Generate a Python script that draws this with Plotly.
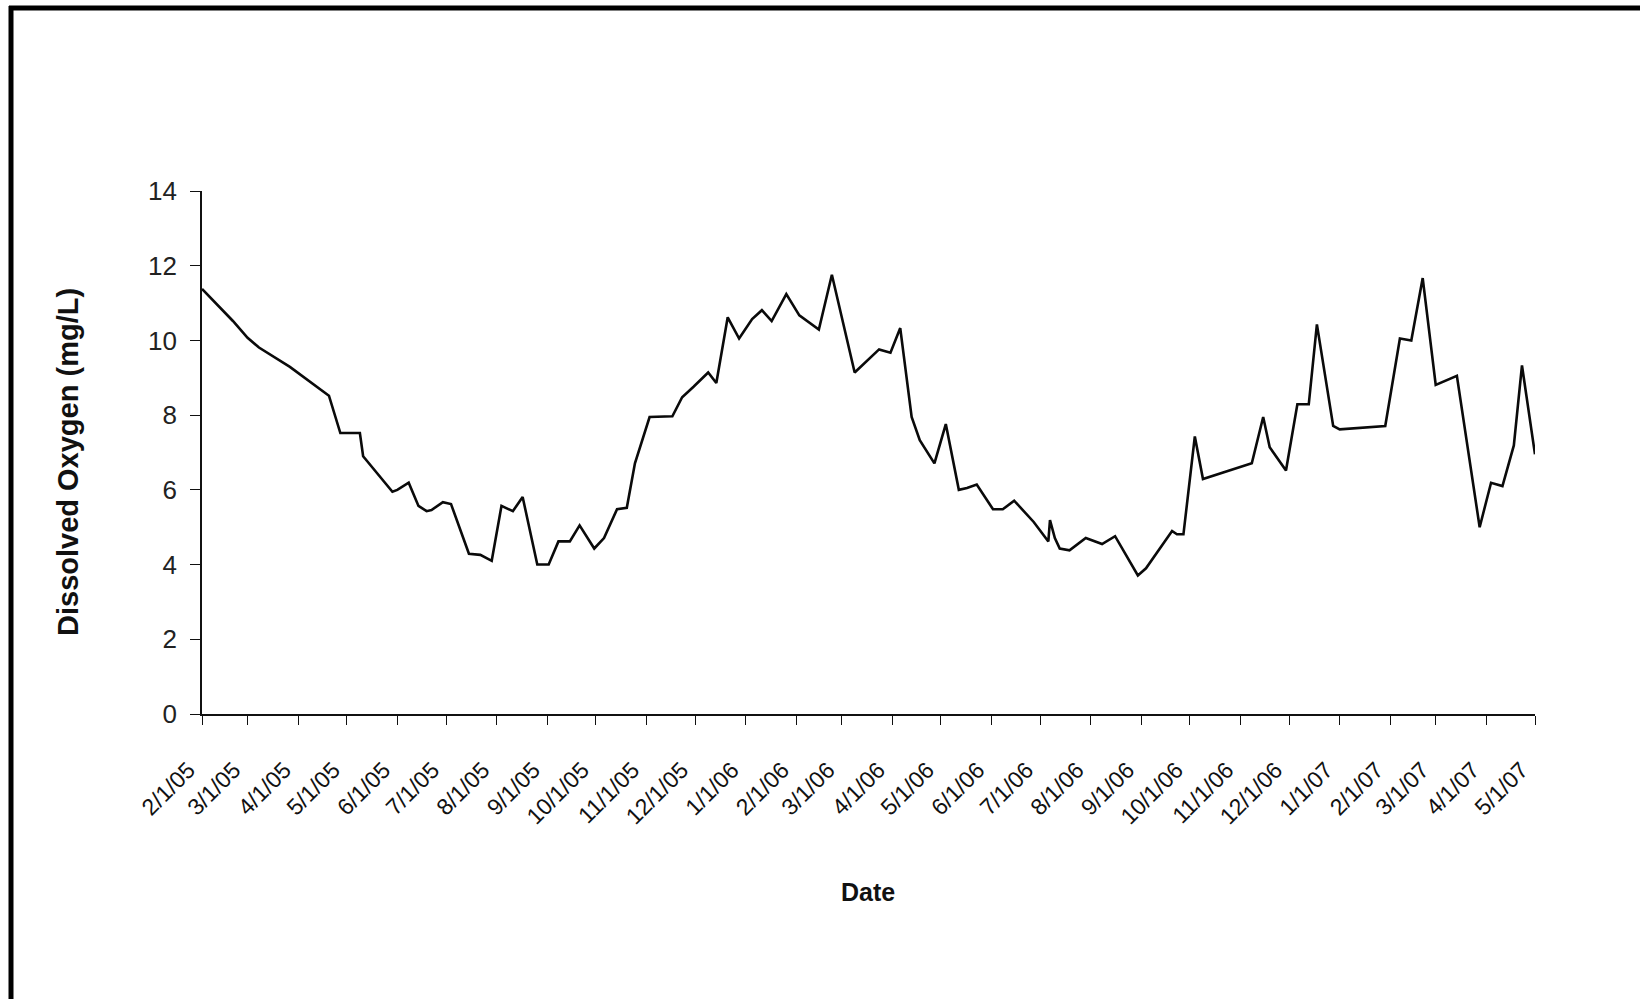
import plotly.graph_objects as go

# ---- data ----
dates = [
    "2005-02-01", "2005-02-20", "2005-03-01", "2005-03-08", "2005-03-27", "2005-04-08",
    "2005-04-20", "2005-04-27", "2005-05-09", "2005-05-11", "2005-05-29", "2005-06-01",
    "2005-06-08", "2005-06-14", "2005-06-19", "2005-06-22", "2005-06-29", "2005-07-04",
    "2005-07-15", "2005-07-22", "2005-07-29", "2005-08-04", "2005-08-11", "2005-08-17",
    "2005-08-26", "2005-09-02", "2005-09-08", "2005-09-15", "2005-09-21", "2005-09-30",
    "2005-10-06", "2005-10-14", "2005-10-20", "2005-10-25", "2005-11-03", "2005-11-17",
    "2005-11-23", "2005-11-30", "2005-12-09", "2005-12-14", "2005-12-21", "2005-12-28",
    "2006-01-05", "2006-01-11", "2006-01-17", "2006-01-26", "2006-02-03", "2006-02-15",
    "2006-02-23", "2006-03-09", "2006-03-16", "2006-03-24", "2006-03-31", "2006-04-06",
    "2006-04-13", "2006-04-18", "2006-04-27", "2006-05-04", "2006-05-12", "2006-05-17",
    "2006-05-23", "2006-06-02", "2006-06-08", "2006-06-15", "2006-06-27", "2006-07-06",
    "2006-07-07", "2006-07-10", "2006-07-13", "2006-07-19", "2006-07-29", "2006-08-08",
    "2006-08-16", "2006-08-30", "2006-09-04", "2006-09-20", "2006-09-23", "2006-09-27",
    "2006-10-04", "2006-10-09", "2006-11-08", "2006-11-15", "2006-11-19", "2006-11-29",
    "2006-12-06", "2006-12-13", "2006-12-18", "2006-12-28", "2007-01-01", "2007-01-29",
    "2007-02-07", "2007-02-14", "2007-02-21", "2007-03-01", "2007-03-14", "2007-03-28",
    "2007-04-04", "2007-04-11", "2007-04-18", "2007-04-23", "2007-05-01",
]
dissolved_oxygen = [
    11.38, 10.52, 10.07, 9.81, 9.29, 8.90,
    8.52, 7.52, 7.52, 6.90, 5.95, 6.00,
    6.19, 5.57, 5.43, 5.46, 5.67, 5.62,
    4.29, 4.26, 4.10, 5.57, 5.43, 5.81,
    4.00, 4.00, 4.62, 4.62, 5.05, 4.43,
    4.71, 5.48, 5.52, 6.71, 7.95, 7.97,
    8.48, 8.76, 9.14, 8.86, 10.62, 10.05,
    10.57, 10.81, 10.52, 11.24, 10.67, 10.29,
    11.76, 9.14, 9.43, 9.76, 9.67, 10.33,
    7.95, 7.33, 6.71, 7.76, 6.00, 6.05,
    6.14, 5.48, 5.48, 5.71, 5.14, 4.62,
    5.19, 4.71, 4.43, 4.38, 4.71, 4.55,
    4.76, 3.71, 3.90, 4.90, 4.81, 4.81,
    7.43, 6.29, 6.71, 7.95, 7.14, 6.52,
    8.29, 8.29, 10.43, 7.71, 7.62, 7.71,
    10.05, 10.00, 11.67, 8.81, 9.05, 5.00,
    6.19, 6.10, 7.19, 9.33, 6.95,
]

x_tick_vals = [
    "2005-02-01", "2005-03-01", "2005-04-01", "2005-05-01", "2005-06-01", "2005-07-01",
    "2005-08-01", "2005-09-01", "2005-10-01", "2005-11-01", "2005-12-01", "2006-01-01",
    "2006-02-01", "2006-03-01", "2006-04-01", "2006-05-01", "2006-06-01", "2006-07-01",
    "2006-08-01", "2006-09-01", "2006-10-01", "2006-11-01", "2006-12-01", "2007-01-01",
    "2007-02-01", "2007-03-01", "2007-04-01", "2007-05-01",
]
x_tick_text = [
    "2/1/05", "3/1/05", "4/1/05", "5/1/05", "6/1/05", "7/1/05",
    "8/1/05", "9/1/05", "10/1/05", "11/1/05", "12/1/05", "1/1/06",
    "2/1/06", "3/1/06", "4/1/06", "5/1/06", "6/1/06", "7/1/06",
    "8/1/06", "9/1/06", "10/1/06", "11/1/06", "12/1/06", "1/1/07",
    "2/1/07", "3/1/07", "4/1/07", "5/1/07",
]
y_tick_vals = [0, 2, 4, 6, 8, 10, 12, 14]

y_title = "Dissolved Oxygen (mg/L)"
x_title = "Date"

# ---- layout geometry (pixels) ----
W, H = 1640, 999
L, R, T, B = 202, 1535, 191, 714


def px_x(p):
    return (p - L) / (R - L)


def px_y(p):
    return (B - p) / (B - T)


fig = go.Figure()
fig.add_trace(go.Scatter(
    x=dates, y=dissolved_oxygen, mode="lines",
    line=dict(color="#0a0a0a", width=2.6),
    showlegend=False, hoverinfo="x+y",
))

fig.update_layout(
    width=W, height=H,
    margin=dict(l=L, r=W - R, t=T, b=H - B, pad=0),
    paper_bgcolor="white", plot_bgcolor="white",
    font=dict(family="Liberation Sans, Arial, sans-serif", color="#111"),
    xaxis=dict(
        type="date",
        range=[x_tick_vals[0], x_tick_vals[-1]],
        tickmode="array", tickvals=x_tick_vals,
        ticktext=[t + "\u00a0\u00a0\u00a0" for t in x_tick_text],
        tickangle=-45,
        tickfont=dict(size=23, color="#111", family="Liberation Sans, Arial, sans-serif"),
        ticks="outside", ticklen=9, tickwidth=1.3, tickcolor="#111",
        showline=True, linecolor="#111", linewidth=1.6,
        showgrid=False, zeroline=False,
        ticklabelstandoff=9,
    ),
    yaxis=dict(
        range=[0, 14],
        tickmode="array", tickvals=y_tick_vals,
        tickfont=dict(size=26, color="#222", family="Liberation Sans, Arial, sans-serif"),
        ticks="outside", ticklen=10, tickwidth=1.3, tickcolor="#111",
        showline=True, linecolor="#111", linewidth=1.6,
        showgrid=False, zeroline=False,
        ticklabelstandoff=8,
    ),
    annotations=[
        dict(text="<b>" + y_title + "</b>", xref="paper", yref="paper",
             x=px_x(68), y=px_y(462), textangle=-90, showarrow=False,
             xanchor="center", yanchor="middle",
             font=dict(size=29, color="#111", family="Liberation Sans, Arial, sans-serif")),
        dict(text="<b>" + x_title + "</b>", xref="paper", yref="paper",
             x=px_x(868), y=px_y(892), showarrow=False,
             xanchor="center", yanchor="middle",
             font=dict(size=25, color="#111", family="Liberation Sans, Arial, sans-serif")),
    ],
    shapes=[
        dict(type="line", xref="paper", yref="paper",
             x0=px_x(9), x1=px_x(W + 5), y0=px_y(8), y1=px_y(8),
             line=dict(color="black", width=5)),
        dict(type="line", xref="paper", yref="paper",
             x0=px_x(11), x1=px_x(11), y0=px_y(6), y1=px_y(H + 5),
             line=dict(color="black", width=5)),
    ],
)

fig.write_html("out.html", config={"displayModeBar": False},
               post_script="document.body.style.margin='0';")
